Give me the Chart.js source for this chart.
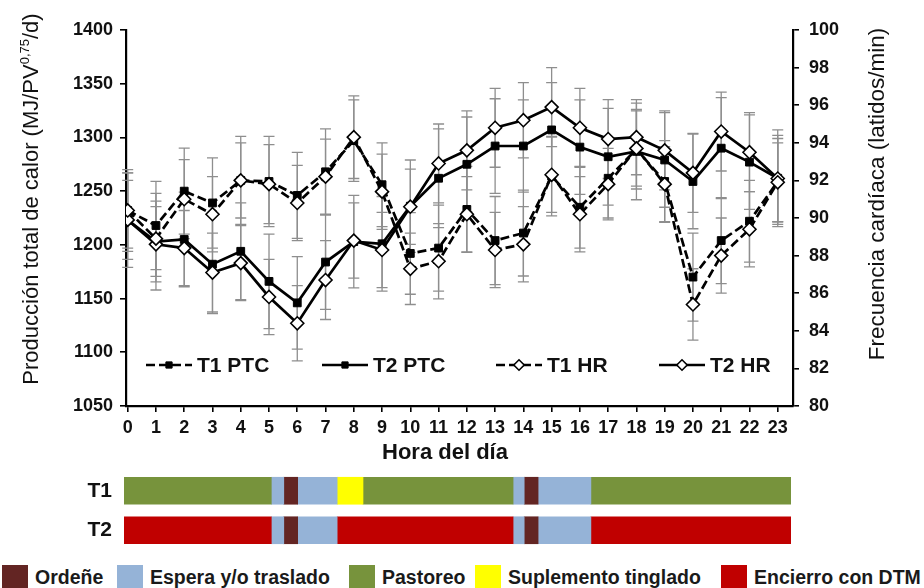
<!DOCTYPE html>
<html lang="es">
<head>
<meta charset="utf-8">
<title>Producción total de calor y frecuencia cardíaca por hora del día</title>
<script src="https://cdn.jsdelivr.net/npm/chart.js@4.4.1/dist/chart.umd.min.js"></script>
<style>
  html, body { margin: 0; padding: 0; background: #fff; }
  #wrap { position: relative; width: 924px; height: 588px; overflow: hidden; }
  #main { position: absolute; left: 0; top: 0; }
  #acts { position: absolute; left: 0; top: 465px; }
  .key { position: absolute; top: 565px; height: 24px; display: flex; align-items: center;
         font-family: "Liberation Sans", Arial, sans-serif; font-weight: bold; font-size: 19.5px;
         color: #1a1a1a; white-space: nowrap; }
  .key i { display: inline-block; width: 26px; height: 24px; margin-right: 7px; }
</style>
</head>
<body>
<div id="wrap">
  <canvas id="main" width="924" height="465"></canvas>
  <canvas id="acts" width="924" height="92"></canvas>
</div>
<script>
// ---- data -------------------------------------------------------------
const hours = [0, 1, 2, 3, 4, 5, 6, 7, 8, 9, 10, 11, 12, 13, 14, 15, 16, 17, 18, 19, 20, 21, 22, 23];

// Producción total de calor (MJ/PV^0,75/d)
const t1Ptc = [1232, 1218, 1250, 1239, 1260, 1259, 1246, 1268, 1297, 1256, 1192, 1197,
               1233, 1204, 1211, 1264, 1235, 1262, 1289, 1259, 1170, 1204, 1222, 1259];
const t2Ptc = [1223, 1203, 1205, 1182, 1194, 1166, 1146, 1184, 1203, 1201, 1236, 1262,
               1275, 1292, 1292, 1307, 1291, 1282, 1287, 1279, 1259, 1290, 1277, 1262];
const t1PtcErr = [38, 41, 40, 42, 41, 42, 40, 40, 38, 39, 38, 40, 40, 41, 40, 37, 38, 37, 37, 38, 41, 40, 38, 40];
const t2PtcErr = [44, 45, 44, 46, 45, 44, 43, 44, 43, 44, 43, 46, 44, 44, 43, 44, 44, 45, 45, 44, 44, 47, 44, 45];

// Frecuencia cardíaca (latidos/min)
const t1Hr = [90.4, 88.9, 91.0, 90.2, 92.0, 91.8, 90.8, 92.2, 94.3, 91.4, 87.3, 87.7,
              90.2, 88.3, 88.6, 92.3, 90.2, 91.8, 93.7, 91.8, 85.4, 88.0, 89.4, 91.9];
const t2Hr = [89.9, 88.6, 88.4, 87.1, 87.6, 85.8, 84.4, 86.7, 88.8, 88.3, 90.6, 92.9,
              93.6, 94.8, 95.2, 95.9, 94.8, 94.2, 94.3, 93.6, 92.4, 94.6, 93.5, 92.1];
const t1HrErr = [2.0, 2.0, 2.1, 2.0, 2.0, 2.1, 2.0, 2.0, 2.2, 2.0, 1.9, 2.0, 2.0, 2.0, 2.0, 2.0, 2.0, 1.9, 2.0, 2.0, 1.9, 2.0, 2.0, 2.1];
const t2HrErr = [2.1, 2.0, 2.0, 2.1, 2.0, 2.0, 2.0, 2.1, 2.0, 2.0, 2.0, 2.1, 2.1, 2.1, 2.0, 2.1, 2.1, 2.1, 2.0, 2.1, 2.1, 2.1, 2.1, 2.3];

// Activity schedule per treatment (hours spent in each activity, in order)
const activityNames = ['Ordeñe', 'Espera y/o traslado', 'Pastoreo', 'Suplemento tinglado', 'Encierro con DTM'];
const t1Activities = ['Pastoreo', 'Espera y/o traslado', 'Ordeñe', 'Espera y/o traslado', 'Suplemento tinglado',
                      'Pastoreo', 'Espera y/o traslado', 'Ordeñe', 'Espera y/o traslado', 'Pastoreo'];
const t1Durations = [5.3, 0.45, 0.5, 1.42, 0.93, 5.4, 0.4, 0.5, 1.9, 7.2];
const t2Activities = ['Encierro con DTM', 'Espera y/o traslado', 'Ordeñe', 'Espera y/o traslado', 'Encierro con DTM',
                      'Espera y/o traslado', 'Ordeñe', 'Espera y/o traslado', 'Encierro con DTM'];
const t2Durations = [5.3, 0.45, 0.5, 1.42, 6.33, 0.4, 0.5, 1.9, 7.2];
const treatments = ['T1', 'T2'];

// ---- styling ------------------------------------------------------------
const FONT = '"Liberation Sans", Arial, Helvetica, sans-serif';
const INK = '#111';
const activityColors = {
  'Ordeñe': '#632523',
  'Espera y/o traslado': '#95B3D7',
  'Pastoreo': '#77933C',
  'Suplemento tinglado': '#FFFF00',
  'Encierro con DTM': '#C00000'
};

function lineSeries(label, values, errors, axis, dashed, hollow, order) {
  return {
    label,
    data: hours.map((h, i) => ({ x: h, y: values[i] })),
    errors,
    yAxisID: axis,
    order,
    borderColor: '#000',
    borderWidth: 2.7,
    borderDash: dashed ? [9, 4] : [],
    pointStyle: hollow ? 'rectRot' : 'rect',
    pointRadius: hollow ? 6.5 : 5.5,
    pointBackgroundColor: hollow ? '#fff' : '#000',
    pointBorderColor: '#000',
    pointBorderWidth: hollow ? 1.6 : 1,
    tension: 0,
    fill: false
  };
}

// Vertical error bars with caps, drawn under the lines
const errorBars = {
  id: 'errorBars',
  beforeDatasetsDraw(chart) {
    const ctx = chart.ctx;
    ctx.save();
    ctx.strokeStyle = '#8e8e8e';
    ctx.lineWidth = 1.3;
    chart.data.datasets.forEach((ds, i) => {
      const meta = chart.getDatasetMeta(i);
      const scale = chart.scales[ds.yAxisID];
      meta.data.forEach((pt, j) => {
        const v = ds.data[j].y, e = ds.errors[j];
        const top = scale.getPixelForValue(v + e);
        const bot = scale.getPixelForValue(v - e);
        const x = pt.x;
        ctx.beginPath();
        ctx.moveTo(x, top); ctx.lineTo(x, bot);
        ctx.moveTo(x - 5.5, top); ctx.lineTo(x + 5.5, top);
        ctx.moveTo(x - 5.5, bot); ctx.lineTo(x + 5.5, bot);
        ctx.stroke();
      });
    });
    ctx.restore();
  }
};

// Axis titles and the in-plot legend
const chartText = {
  id: 'chartText',
  afterDraw(chart) {
    const ctx = chart.ctx;
    const area = chart.chartArea;
    ctx.save();
    ctx.fillStyle = INK;
    ctx.textBaseline = 'middle';

    // left title with superscript exponent
    const mainPart = 'Producción total de calor (MJ/PV';
    const supPart = '0,75';
    const tailPart = '/d)';
    const big = `22px ${FONT}`, small = `13px ${FONT}`;
    ctx.font = big; const w1 = ctx.measureText(mainPart).width, w3 = ctx.measureText(tailPart).width;
    ctx.font = small; const w2 = ctx.measureText(supPart).width;
    ctx.save();
    ctx.translate(area.left - 94, (area.top + area.bottom) / 2 - 19);
    ctx.rotate(-Math.PI / 2);
    let x0 = -(w1 + w2 + w3) / 2;
    ctx.textAlign = 'left';
    ctx.font = big; ctx.fillText(mainPart, x0, 0);
    ctx.font = small; ctx.fillText(supPart, x0 + w1, -7);
    ctx.font = big; ctx.fillText(tailPart, x0 + w1 + w2, 0);
    ctx.restore();

    // right title
    ctx.save();
    ctx.translate(area.right + 85, (area.top + area.bottom) / 2 - 24);
    ctx.rotate(-Math.PI / 2);
    ctx.textAlign = 'center';
    ctx.font = `22.5px ${FONT}`;
    ctx.fillText('Frecuencia cardíaca (latidos/min)', 0, 0);
    ctx.restore();

    // bottom title
    ctx.textAlign = 'center';
    ctx.font = `bold 22px ${FONT}`;
    ctx.fillText('Hora del día', 445, area.bottom + 47);

    // legend inside the plot
    const legendOrder = ['T1 PTC', 'T2 PTC', 'T1 HR', 'T2 HR'];
    const legendX = [146, 322, 496, 659];
    const ly = area.bottom - 41;
    legendOrder.forEach((name, k) => {
      const ds = chart.data.datasets.find(d => d.label === name);
      const x = legendX[k];
      ctx.save();
      ctx.strokeStyle = '#000';
      ctx.lineWidth = 2.7;
      ctx.setLineDash(ds.borderDash);
      ctx.beginPath(); ctx.moveTo(x, ly); ctx.lineTo(x + 46, ly); ctx.stroke();
      ctx.setLineDash([]);
      ctx.fillStyle = ds.pointBackgroundColor;
      ctx.strokeStyle = ds.pointBorderColor;
      ctx.lineWidth = ds.pointBorderWidth;
      Chart.helpers.drawPoint(ctx, {
        pointStyle: ds.pointStyle, rotation: 0,
        radius: ds.pointRadius * 0.8, borderWidth: ds.pointBorderWidth
      }, x + 23, ly);
      ctx.restore();
      ctx.fillStyle = INK;
      ctx.textAlign = 'left';
      ctx.font = `bold 21px ${FONT}`;
      ctx.fillText(name, x + 51, ly + 1);
    });
    ctx.restore();
  }
};

const tickFont = { family: FONT, size: 18, weight: 'bold' };
const axisGrid = { display: true, drawOnChartArea: false, drawTicks: true, tickLength: 6, color: '#000', lineWidth: 1.6 };
const axisBorder = { display: true, color: '#000', width: 2.2 };
const plainNumber = v => String(v);

new Chart(document.getElementById('main'), {
  type: 'line',
  data: {
    datasets: [
      lineSeries('T1 PTC', t1Ptc, t1PtcErr, 'y', true, false, 2),
      lineSeries('T2 PTC', t2Ptc, t2PtcErr, 'y', false, false, 2),
      lineSeries('T1 HR', t1Hr, t1HrErr, 'y1', true, true, 1),
      lineSeries('T2 HR', t2Hr, t2HrErr, 'y1', false, true, 1)
    ]
  },
  options: {
    responsive: false,
    animation: false,
    events: [],
    layout: { padding: { top: 30, left: 0, right: 0, bottom: 0 } },
    plugins: { legend: { display: false }, tooltip: { enabled: false } },
    scales: {
      x: {
        type: 'linear', min: -0.06, max: 23.54,
        afterBuildTicks: s => { s.ticks = hours.map(h => ({ value: h })); },
        afterFit: s => { s.height = 59; },
        grid: axisGrid, border: axisBorder,
        ticks: { font: tickFont, color: INK, padding: 5, maxRotation: 0, autoSkip: false, callback: plainNumber }
      },
      y: {
        position: 'left', min: 1050, max: 1400,
        afterFit: s => { s.width = 126; },
        grid: axisGrid, border: axisBorder,
        ticks: { stepSize: 50, font: tickFont, color: INK, padding: 7, callback: plainNumber }
      },
      y1: {
        position: 'right', min: 80, max: 100,
        afterFit: s => { s.width = 131; },
        grid: axisGrid, border: axisBorder,
        ticks: { stepSize: 2, font: tickFont, color: INK, padding: 10, callback: plainNumber }
      }
    }
  },
  plugins: [errorBars, chartText]
});

// ---- activity timeline -------------------------------------------------
function segmentsFor(row, acts, durs) {
  let start = 0;
  return acts.map((a, i) => {
    const end = start + durs[i];
    const data = treatments.map((_, r) => (r === row ? [start, end] : null));
    start = end;
    return {
      label: a, data,
      backgroundColor: activityColors[a],
      borderWidth: 0, grouped: false, barThickness: 27
    };
  });
}

new Chart(document.getElementById('acts'), {
  type: 'bar',
  data: {
    labels: treatments,
    datasets: [...segmentsFor(0, t1Activities, t1Durations), ...segmentsFor(1, t2Activities, t2Durations)]
  },
  options: {
    indexAxis: 'y',
    responsive: false,
    animation: false,
    events: [],
    layout: { padding: { top: 6, bottom: 7, left: 0, right: 133 } },
    plugins: { legend: { display: false }, tooltip: { enabled: false } },
    scales: {
      x: { type: 'linear', min: 0, max: 24, display: false },
      y: {
        afterFit: s => { s.width = 124; s.paddingTop = 0; s.paddingBottom = 0; },
        grid: { display: false, drawTicks: false }, border: { display: false },
        ticks: { font: { family: FONT, size: 21, weight: 'bold' }, color: INK, padding: 12 }
      }
    }
  }
});

// ---- activity key --------------------------------------------------------
const keyLeft = [2, 117, 349, 475, 721];
const wrap = document.getElementById('wrap');
activityNames.forEach((name, i) => {
  const el = document.createElement('div');
  el.className = 'key';
  el.style.left = keyLeft[i] + 'px';
  const sw = document.createElement('i');
  sw.style.background = activityColors[name];
  el.appendChild(sw);
  el.appendChild(document.createTextNode(name));
  wrap.appendChild(el);
});
</script>
</body>
</html>
